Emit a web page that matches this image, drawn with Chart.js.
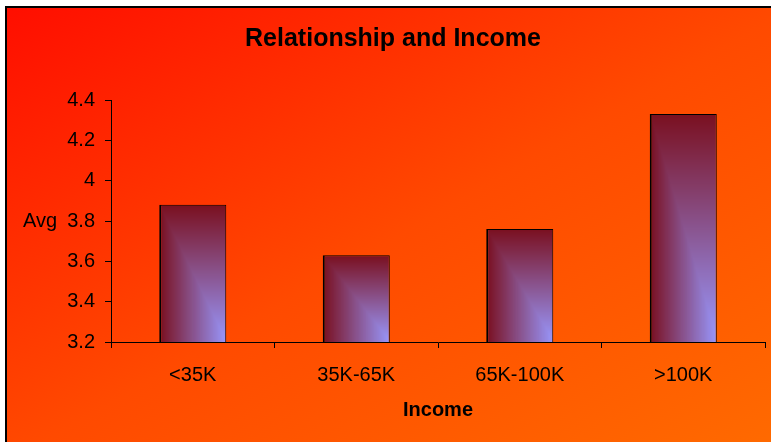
<!DOCTYPE html>
<html>
<head>
<meta charset="utf-8">
<script src="https://cdn.jsdelivr.net/npm/chart.js@4"></script>
<style>
    html, body {
        margin: 0;
        padding: 0;
        background: #ffffff;
        overflow: hidden;
    }

    #chart-bg {
        position: absolute;
        left: 5px;
        top: 6px;
        width: 785px;
        height: 455px;
        border: 2px solid #000000;
        background: linear-gradient(to bottom right, #ff0e00 0%, #ff4a00 50%, #ff6c00 100%);
    }

    #chart-container {
        position: absolute;
        left: 0;
        top: 0;
    }
</style>
</head>
<body>
<div id="chart-bg"></div>
<div id="chart-container">
    <canvas width="771" height="442"></canvas>
</div>
<script>
const chartTitle = 'Relationship and Income';
const xAxisTitle = 'Income';
const yAxisTitle = 'Avg';

const incomeLabels = ['<35K', '35K-65K', '65K-100K', '>100K'];
const avgValues = [3.88, 3.63, 3.76, 4.33];

const yMin = 3.2;
const yMax = 4.4;
const yStep = 0.2;

const fontFamily = '"Liberation Sans", Arial, sans-serif';
const barPercentage = 0.41;

// bar fill runs from dark red on the left/top edges to lavender in the bottom-right corner
const barDark = [122, 16, 32];
const barLight = [153, 153, 255];

window.onload = function() {
    createChart();
}

function mixColor(t) {
    const c = barDark.map((v, i) => Math.round(v + (barLight[i] - v) * t));
    return `rgb(${c[0]}, ${c[1]}, ${c[2]})`;
}

function cornerPattern(ctx, left, top, w, h) {
    const off = document.createElement('canvas');
    off.width = Math.max(1, Math.ceil(w));
    off.height = Math.max(1, Math.ceil(h));
    const octx = off.getContext('2d');
    const steps = Math.max(off.width, off.height);

    for (let i = 0; i <= steps; i++) {
        const t = i / steps;
        octx.fillStyle = mixColor(t);
        octx.fillRect(t * off.width, t * off.height, off.width, off.height);
    }

    const pattern = ctx.createPattern(off, 'no-repeat');
    pattern.setTransform(new DOMMatrix().translateSelf(left, top));
    return pattern;
}

function barFill(context) {
    const chart = context.chart;
    if (!chart.chartArea || context.parsed === undefined) {
        return mixColor(0.5);
    }

    const xScale = chart.scales.x;
    const yScale = chart.scales.y;
    const width = xScale.width / incomeLabels.length * barPercentage;
    const center = xScale.getPixelForValue(context.dataIndex);
    const top = yScale.getPixelForValue(context.parsed.y);
    const bottom = yScale.getPixelForValue(yMin);

    return cornerPattern(chart.ctx, center - width / 2, top, width, bottom - top);
}

function formatTick(value) {
    return String(Number(value.toFixed(2)));
}

const yTitlePlugin = {
    id: 'yTitle',
    afterDraw(chart) {
        const ctx = chart.ctx;
        ctx.save();
        ctx.font = `20px ${fontFamily}`;
        ctx.fillStyle = '#000000';
        ctx.textAlign = 'left';
        ctx.textBaseline = 'middle';
        ctx.fillText(yAxisTitle, 23, chart.scales.y.getPixelForValue(3.8));
        ctx.restore();
    },
};

function createChart() {
    const chartCanvas = document.querySelector('#chart-container > canvas');

    new Chart(chartCanvas, {
        type: 'bar',
        data: {
            labels: incomeLabels,
            datasets: [
                {
                    label: yAxisTitle,
                    data: avgValues,
                    backgroundColor: barFill,
                    borderColor: '#000000',
                    borderWidth: { top: 1, left: 2, right: 1, bottom: 0 },
                    barPercentage: barPercentage,
                    categoryPercentage: 1,
                },
            ],
        },
        plugins: [yTitlePlugin],
        options: {
            responsive: false,
            animation: false,
            layout: {
                padding: { left: 21, right: 6, top: 0, bottom: 0 },
            },
            plugins: {
                legend: { display: false },
                tooltip: { enabled: false },
                title: {
                    display: true,
                    text: chartTitle,
                    color: '#000000',
                    font: { family: fontFamily, size: 25, weight: 'bold' },
                    padding: { top: 24, bottom: 46 },
                },
            },
            scales: {
                x: {
                    offset: true,
                    border: { display: true, color: '#000000', width: 1 },
                    grid: {
                        offset: true,
                        drawOnChartArea: false,
                        drawTicks: true,
                        tickLength: 6,
                        color: '#000000',
                    },
                    ticks: {
                        color: '#000000',
                        padding: 15,
                        font: { family: fontFamily, size: 20 },
                    },
                    title: {
                        display: true,
                        text: xAxisTitle,
                        color: '#000000',
                        font: { family: fontFamily, size: 20, weight: 'bold' },
                        padding: { top: 0, bottom: 20 },
                    },
                    afterFit: (scale) => {
                        scale.height = 100;
                    },
                },
                y: {
                    min: yMin,
                    max: yMax,
                    border: { display: true, color: '#000000', width: 1 },
                    grid: {
                        drawOnChartArea: false,
                        drawTicks: true,
                        tickLength: 6,
                        color: '#000000',
                    },
                    ticks: {
                        stepSize: yStep,
                        color: '#000000',
                        padding: 10,
                        font: { family: fontFamily, size: 20 },
                        callback: formatTick,
                    },
                    afterFit: (scale) => {
                        scale.width = 90;
                    },
                },
            },
        },
    });
}
</script>
</body>
</html>
